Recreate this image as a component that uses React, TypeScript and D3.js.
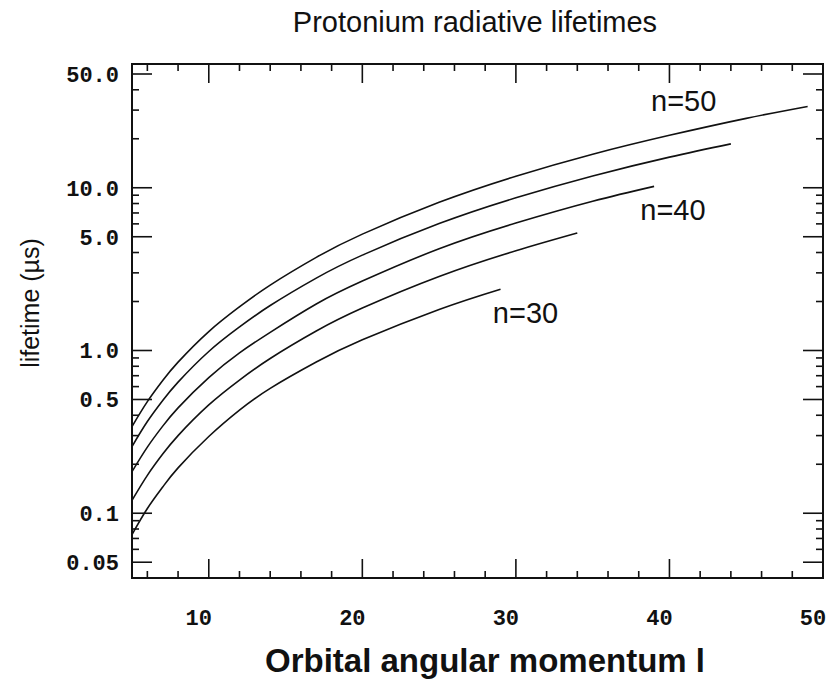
import React from "react";
import * as d3 from "d3";

// ---- data ----
const l30 = [5, 6, 7, 8, 10, 12, 14, 17, 20, 25, 29];
const tau30 = [0.074, 0.107, 0.145, 0.19, 0.296, 0.43, 0.585, 0.849, 1.163, 1.787, 2.38];
const l35 = [5, 6, 7, 8, 10, 12, 14, 17, 20, 25, 30, 34];
const tau35 = [0.12, 0.171, 0.231, 0.3, 0.463, 0.658, 0.893, 1.317, 1.822, 2.85, 4.1, 5.27];
const l40 = [5, 6, 7, 8, 10, 12, 14, 17, 20, 25, 30, 35, 39];
const tau40 = [0.18, 0.255, 0.343, 0.444, 0.681, 0.966, 1.293, 1.93, 2.67, 4.22, 6.07, 8.26, 10.2];
const l45 = [5, 6, 7, 8, 10, 12, 14, 17, 20, 25, 30, 35, 40, 44];
const tau45 = [0.257, 0.366, 0.493, 0.639, 0.986, 1.395, 1.89, 2.786, 3.855, 6.02, 8.67, 11.81, 15.42, 18.6];
const l50 = [5, 6, 7, 8, 10, 12, 14, 17, 20, 25, 30, 35, 40, 45, 49];
const tau50 = [0.341, 0.485, 0.654, 0.848, 1.307, 1.855, 2.524, 3.736, 5.19, 8.14, 11.77, 16.07, 21.0, 26.7, 31.6];

const seriesL = [l30, l35, l40, l45, l50];
const seriesTau = [tau30, tau35, tau40, tau45, tau50];

const xMajorTicks = [10, 20, 30, 40, 50];
const xTickLabels = ["10", "20", "30", "40", "50"];
const xMinorTicks = [6, 8, 12, 14, 16, 18, 22, 24, 26, 28, 32, 34, 36, 38, 42, 44, 46, 48];

const yMajorTicks = [0.05, 0.1, 0.5, 1, 5, 10, 50];
const yTickLabels = ["0.05", "0.1", "0.5", "1.0", "5.0", "10.0", "50.0"];
const yMinorTicks = [0.06, 0.07, 0.08, 0.09, 0.2, 0.3, 0.4, 0.6, 0.7, 0.8, 0.9, 2, 3, 4, 6, 7, 8, 9, 20, 30, 40];

const curveLabels = ["n=50", "n=40", "n=30"];
const curveLabelL = [38.8, 38.1, 28.5];
const curveLabelTau = [29.6, 6.33, 1.47];

const title = "Protonium radiative lifetimes";
const xTitle = "Orbital angular momentum l";
const yTitle = "lifetime (\u00b5s)";

// ---- layout ----
const W = 834, H = 685;
const left = 132, right = 823, top = 64, bottom = 578;

export default function App() {
  const x = d3.scaleLinear().domain([5, 50]).range([left, right]);
  const y = d3.scaleLog().domain([0.04, 57.6]).range([bottom, top]);

  const line = d3
    .line<[number, number]>()
    .x((d) => x(d[0]))
    .y((d) => y(d[1]))
    .curve(d3.curveNatural);

  const tickFont = {
    fontFamily: "'Liberation Mono', 'DejaVu Sans Mono', monospace",
    fontWeight: 700,
    fontSize: 22,
  } as const;

  const sans = "'Liberation Sans', Arial, Helvetica, sans-serif";

  return (
    <svg width={W} height={H} style={{ position: "absolute", left: 0, top: 0, background: "#fff" }}>
      <defs>
        <clipPath id="plotClip">
          <rect x={left} y={top} width={right - left} height={bottom - top} />
        </clipPath>
      </defs>

      {/* title */}
      <text x={475} y={32} textAnchor="middle" fontFamily={sans} fontSize={29} fill="#111">
        {title}
      </text>

      {/* curves */}
      <g clipPath="url(#plotClip)">
        {seriesL.map((ls, i) => (
          <path
            key={i}
            d={line(ls.map((l, j) => [l, seriesTau[i][j]] as [number, number])) || ""}
            fill="none"
            stroke="#111"
            strokeWidth={1.6}
          />
        ))}
      </g>

      {/* ticks on all four sides */}
      <g stroke="#111" strokeWidth={1.6}>
        {xMajorTicks.map((t) => (
          <g key={"xM" + t}>
            <line x1={x(t)} x2={x(t)} y1={bottom} y2={bottom - 19} />
            <line x1={x(t)} x2={x(t)} y1={top} y2={top + 19} />
          </g>
        ))}
        {xMinorTicks.map((t) => (
          <g key={"xm" + t}>
            <line x1={x(t)} x2={x(t)} y1={bottom} y2={bottom - 7} />
            <line x1={x(t)} x2={x(t)} y1={top} y2={top + 7} />
          </g>
        ))}
        {yMajorTicks.map((t) => (
          <g key={"yM" + t}>
            <line x1={left} x2={left + 20} y1={y(t)} y2={y(t)} />
            <line x1={right} x2={right - 20} y1={y(t)} y2={y(t)} />
          </g>
        ))}
        {yMinorTicks.map((t) => (
          <g key={"ym" + t}>
            <line x1={left} x2={left + 7} y1={y(t)} y2={y(t)} />
            <line x1={right} x2={right - 7} y1={y(t)} y2={y(t)} />
          </g>
        ))}
      </g>

      {/* frame */}
      <rect x={left} y={top} width={right - left} height={bottom - top} fill="none" stroke="#111" strokeWidth={2} />

      {/* tick labels */}
      {xMajorTicks.map((t, i) => (
        <text key={"xl" + t} x={x(t) - 10} y={625} textAnchor="middle" {...tickFont} fill="#111">
          {xTickLabels[i]}
        </text>
      ))}
      {yMajorTicks.map((t, i) => (
        <text key={"yl" + t} x={119} y={y(t)} dy="0.36em" textAnchor="end" {...tickFont} fill="#111">
          {yTickLabels[i]}
        </text>
      ))}

      {/* curve labels */}
      {curveLabels.map((s, i) => (
        <text key={s} x={x(curveLabelL[i])} y={y(curveLabelTau[i])} fontFamily={sans} fontSize={29} fill="#111">
          {s}
        </text>
      ))}

      {/* axis titles */}
      <text x={485} y={672} textAnchor="middle" fontFamily={sans} fontWeight={700} fontSize={33} fill="#111">
        {xTitle}
      </text>
      <text transform={`translate(39,303) rotate(-90)`} textAnchor="middle" fontFamily={sans} fontSize={25} fill="#111">
        {yTitle}
      </text>
    </svg>
  );
}
